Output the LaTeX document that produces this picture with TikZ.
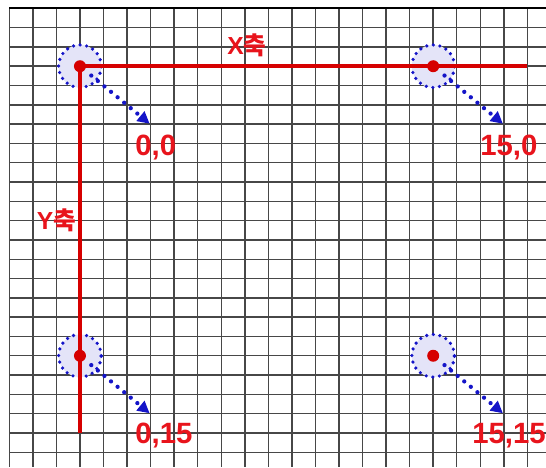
\documentclass[tikz,border=0pt]{standalone}
\usepackage{fontspec}
\setmainfont{Liberation Sans}
\newfontfamily\kr{Noto Sans CJK KR}
\usetikzlibrary{arrows.meta}
\definecolor{axisred}{RGB}{214,0,0}
\definecolor{textred}{RGB}{232,20,28}
\definecolor{dotblue}{RGB}{20,20,200}
\definecolor{ringfill}{RGB}{228,228,248}

\begin{document}
\begin{tikzpicture}[x=17.66pt, y=-14.475pt, every node/.style={inner sep=0pt},
  gridline/.style={draw=black!72, line width=1.1pt},
  axis/.style={draw=axisred, line width=2.6pt},
  ring/.style={circle, minimum size=32pt, draw=dotblue, fill=ringfill, line width=2.7pt, dash pattern=on 0pt off 5pt, line cap=round},
  reddot/.style={circle, fill=axisred, minimum size=9pt},
  pointer/.style={draw=dotblue, line width=3.2pt, dash pattern=on 0pt off 6.4pt, line cap=round, -{Triangle[length=9pt,width=9pt]}, shorten <=11pt},
  coordlabel/.style={text=textred, anchor=west, font=\bfseries\fontsize{22}{22}\selectfont},
  axislabel/.style={text=textred, font=\bfseries\fontsize{18.5}{18.5}\selectfont}]
  \useasboundingbox (-0.395,-0.43) rectangle (22.79,23.77);
  % grid
  \foreach \r in {1,...,23}
    \draw[gridline] (0,\r) -- (22.79,\r);
  \foreach \c in {0,...,22}
    \draw[gridline] (\c,0) -- (\c,23.77);
  \draw[line width=1.5pt] (0,0) -- (22.79,0);
  % rings round the four points
  \foreach \nm/\cx/\cy in {a/3/3, b/18/3, c/3/18, d/18/18} {
    \node[ring] (ring-\nm) at (\cx,\cy) {};
    \coordinate (tip-\nm) at (\cx+2.96,\cy+2.98);
  }
  % axes
  \coordinate (xend) at (22,3);
  \coordinate (yend) at (3,22);
  \draw[axis] (ring-a.center) -- (xend);
  \draw[axis] (ring-a.center) -- (yend);
  \node[axislabel] (xlabel) at (10.09,1.9) {X{\kr 축}};
  \node[axislabel] (ylabel) at (2.0,10.97) {Y{\kr 축}};
  % points and pointers
  \foreach \nm in {a,b,c,d} {
    \node[reddot] (pt-\nm) at (ring-\nm.center) {};
    \draw[pointer] (pt-\nm.center) -- (tip-\nm);
  }
  \node[coordlabel] (lab-a) at (5.34,7.19) {0,0};
  \node[coordlabel] (lab-b) at (19.99,7.19) {15,0};
  \node[coordlabel] (lab-c) at (5.34,22.15) {0,15};
  \node[coordlabel] (lab-d) at (19.65,22.15) {15,15};
\end{tikzpicture}
\end{document}
